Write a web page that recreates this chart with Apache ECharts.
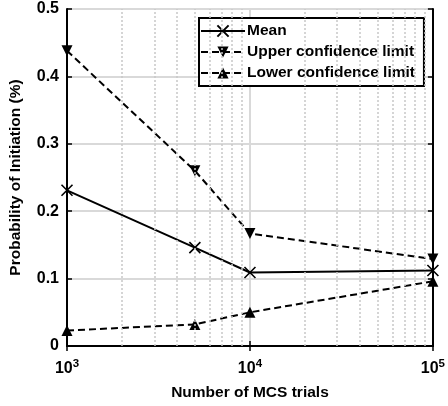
<!DOCTYPE html>
<html>
<head>
<meta charset="utf-8">
<script src="https://cdn.jsdelivr.net/npm/echarts@6/dist/echarts.min.js"></script>
<style>html,body{margin:0;padding:0;background:#fff}</style>
</head>
<body>
<div id="chart" style="width:448px;height:406px"></div>
<script>
const trials = [1000, 5000, 10000, 100000]
const meanVals = [0.231, 0.146, 0.109, 0.112]
const upperVals = [0.438, 0.260, 0.167, 0.129]
const lowerVals = [0.023, 0.032, 0.050, 0.096]
const minorX = [2000, 3000, 4000, 5000, 6000, 7000, 8000, 9000,
  20000, 30000, 40000, 50000, 60000, 70000, 80000, 90000]

const chart = echarts.init(document.getElementById('chart'))
const FONT = '"Liberation Sans", Arial, sans-serif'
const pair = (xs, ys) => xs.map((x, i) => [x, ys[i]])

// cross marker drawn as a stroked path
const crossPath = 'path://M0,0L10,10M10,0L0,10'

const option = {
  backgroundColor: '#fff',
  animation: false,
  grid: { left: 65, right: 14, top: 9, bottom: 60 },
  legend: {
    data: ['Mean', 'Upper confidence limit', 'Lower confidence limit'],
    orient: 'vertical',
    left: 199,
    top: 18,
    padding: [5, 9, 5, 1],
    itemGap: 5,
    itemWidth: 44,
    itemHeight: 14,
    backgroundColor: '#fff',
    borderColor: '#000',
    borderWidth: 2,
    borderRadius: 0,
    textStyle: { fontFamily: FONT, fontWeight: 'bold', fontSize: 15.5, color: '#000', padding: [0, 0, 0, -3] }
  },
  xAxis: [
    {
      type: 'log',
      logBase: 10,
      min: 1000,
      max: 100000,
      name: 'Number of MCS trials',
      nameLocation: 'middle',
      nameGap: 39,
      nameTextStyle: { fontFamily: FONT, fontWeight: 'bold', fontSize: 15.5, color: '#000' },
      axisLine: { lineStyle: { color: '#000', width: 2 } },
      axisTick: { inside: true, length: 5, lineStyle: { color: '#000', width: 1.5 } },
      splitLine: { show: true, lineStyle: { color: '#d9d9d9', width: 2 } },
      axisLabel: {
        margin: 12,
        formatter: (v) => '10{sup|' + Math.round(Math.log10(v)) + '}',
        fontFamily: FONT, fontWeight: 'bold', fontSize: 16, color: '#000',
        rich: {
          sup: { fontFamily: FONT, fontWeight: 'bold', fontSize: 11.5, color: '#000', verticalAlign: 'bottom', padding: [0, 0, 10, 0] }
        }
      }
    },
    {
      type: 'log',
      logBase: 10,
      min: 1000,
      max: 100000,
      position: 'top',
      axisLine: { lineStyle: { color: '#000', width: 2 } },
      axisTick: { inside: true, length: 5, lineStyle: { color: '#000', width: 1.5 } },
      axisLabel: { show: false },
      splitLine: { show: false }
    }
  ],
  yAxis: [
    {
      type: 'value',
      min: 0,
      max: 0.5,
      interval: 0.1,
      name: 'Probability of Initiation (%)',
      nameLocation: 'middle',
      nameGap: 43,
      nameTextStyle: { fontFamily: FONT, fontWeight: 'bold', fontSize: 15.5, color: '#000' },
      axisLine: { show: true, lineStyle: { color: '#000', width: 2 } },
      axisTick: { show: true, inside: true, length: 5, lineStyle: { color: '#000', width: 1.5 } },
      splitLine: { show: true, lineStyle: { color: '#d9d9d9', width: 2 } },
      axisLabel: {
        margin: 8,
        formatter: (v) => String(+v.toFixed(1)),
        fontFamily: FONT, fontWeight: 'bold', fontSize: 16, color: '#000'
      }
    },
    {
      type: 'value',
      min: 0,
      max: 0.5,
      interval: 0.1,
      position: 'right',
      axisLine: { show: true, lineStyle: { color: '#000', width: 2 } },
      axisTick: { show: true, inside: true, length: 5, lineStyle: { color: '#000', width: 1.5 } },
      axisLabel: { show: false },
      splitLine: { show: false }
    }
  ],
  series: [
    {
      name: 'minor grid',
      type: 'line',
      data: [],
      z: 1,
      silent: true,
      markLine: {
        silent: true,
        symbol: 'none',
        label: { show: false },
        lineStyle: { color: '#c8c8c8', type: [2, 2], width: 1.5 },
        data: minorX.map((x) => ({ xAxis: x }))
      }
    },
    {
      name: 'Mean',
      type: 'line',
      z: 3,
      data: pair(trials, meanVals),
      symbol: crossPath,
      symbolSize: 11,
      lineStyle: { color: '#000', width: 2 },
      itemStyle: { color: '#000', borderColor: '#000', borderWidth: 1.6 }
    },
    {
      name: 'Upper confidence limit',
      type: 'line',
      z: 3,
      data: pair(trials, upperVals),
      symbol: 'triangle',
      symbolRotate: 180,
      symbolSize: 11,
      lineStyle: { color: '#000', width: 2, type: [7, 4] },
      itemStyle: { color: '#000' }
    },
    {
      name: 'Lower confidence limit',
      type: 'line',
      z: 3,
      data: pair(trials, lowerVals),
      symbol: 'triangle',
      symbolSize: 11,
      lineStyle: { color: '#000', width: 2, type: [7, 4] },
      itemStyle: { color: '#000' }
    }
  ]
}

chart.setOption(option)
</script>
</body>
</html>
